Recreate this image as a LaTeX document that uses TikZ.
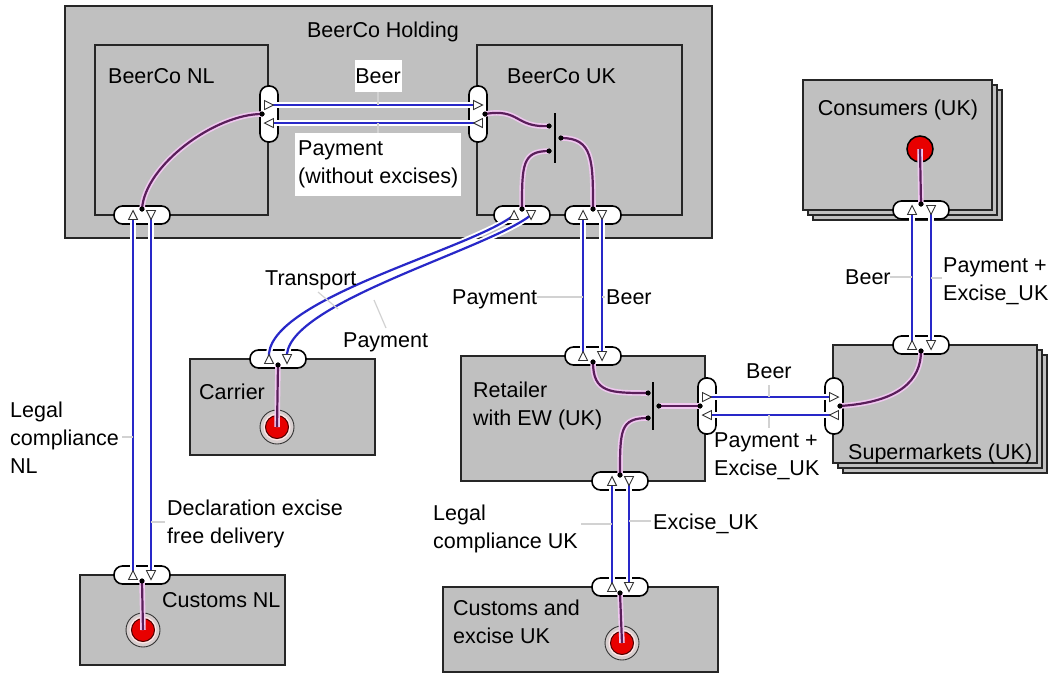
\documentclass[tikz,border=0pt]{standalone}
\usepackage{fontspec}
\setmainfont{Liberation Sans}
\definecolor{boxgray}{RGB}{192,192,192}
\definecolor{vblue}{RGB}{40,40,200}
\definecolor{dpurple}{RGB}{90,30,90}
\definecolor{dpink}{RGB}{240,200,240}
\definecolor{leadgray}{RGB}{210,210,210}
\definecolor{stimred}{RGB}{232,0,0}
\definecolor{ringfill}{RGB}{214,206,206}
\tikzset{
  box/.style={draw=black!85, line width=1.6pt, fill=boxgray},
  port/.style={draw=black, line width=1.6pt, fill=white, rounded corners=8.5pt, inner sep=0pt},
  hport/.style={port, minimum width=56pt, minimum height=18pt},
  vport/.style={port, minimum width=18pt, minimum height=56pt},
  vt/.style={draw=vblue, line width=2.2pt, preaction={draw=white, line width=6pt}},
  dep/.style={draw=dpurple, line width=2.2pt, preaction={draw=dpink, line width=5.5pt}},
  lead/.style={draw=leadgray, line width=1.2pt},
  lbl/.style={align=left, inner sep=0pt, anchor=base west},
  tri/.style={draw=black!80, fill=white, line width=0.9pt},
  dot/.style={circle, fill=black, inner sep=0pt, minimum size=5pt},
  andbar/.style={fill=black, inner sep=0pt, minimum width=1.8pt},
  ring/.style={circle, draw=black!80, line width=0.9pt, fill=ringfill, minimum size=34pt, inner sep=0pt},
  redc/.style={circle, fill=stimred, draw=black!70!red, line width=1pt, minimum size=23pt, inner sep=0pt,
     preaction={draw=white!90!red, line width=4pt}},
  startc/.style={circle, fill=stimred, draw=black, line width=1.5pt, minimum size=26pt, inner sep=0pt},
  triU/.pic={\draw[tri] (-4.5,4.5)--(0,-4.5)--(4.5,4.5)--cycle;},
  triD/.pic={\draw[tri] (-4.5,-4.5)--(0,4.5)--(4.5,-4.5)--cycle;},
  triR/.pic={\draw[tri] (-4.5,-4.5)--(4.5,0)--(-4.5,4.5)--cycle;},
  triL/.pic={\draw[tri] (4.5,-4.5)--(-4.5,0)--(4.5,4.5)--cycle;},
}
\begin{document}
\begin{tikzpicture}[x=1pt,y=-1pt,font=\fontsize{21.5}{28}\selectfont]
\useasboundingbox (0,0) rectangle (1052,681);

% ---------- actor boxes ----------
\draw[box] (65,6) rectangle (712,238);
\node[anchor=base] (tHold) at (383,37.5) {BeerCo Holding};
\draw[box] (95,45) rectangle (268,215);
\node[lbl] (tNL) at (108,83.5) {BeerCo NL};
\draw[box] (477,45) rectangle (682,215);
\node[lbl] (tUK) at (507,83.5) {BeerCo UK};

\draw[box] (190,359) rectangle (375,455);
\node[lbl] (tCar) at (199,399.5) {Carrier};
\draw[box] (461,356) rectangle (705,481);
\node[lbl] (tRet) at (473,425.5) {Retailer\\with EW (UK)};
\draw[box] (80,575) rectangle (285,665);
\node[lbl] (tCnl) at (162,607.5) {Customs NL};
\draw[box] (443,587) rectangle (718,672);
\node[lbl] (tCuk) at (453,643.5) {Customs and\\excise UK};

% stacked market segments
\draw[box] (813,90) rectangle (1002,220);
\draw[box] (808,85) rectangle (997,215);
\draw[box] (803,80) rectangle (992,210);
\node[anchor=base] (tCon) at (898,115.5) {Consumers (UK)};
\draw[box] (843,355) rectangle (1047,473);
\draw[box] (838,350) rectangle (1042,468);
\draw[box] (833,345) rectangle (1037,463);
\node[lbl] (tSup) at (848,459.5) {Supermarkets (UK)};

% ---------- ports ----------
\node[vport] (pNLr) at (269,114) {};
\node[vport] (pUKl) at (478,114) {};
\node[hport] (pNLb) at (142,215) {};
\node[hport] (pUKb1) at (522,215) {};
\node[hport] (pUKb2) at (593,215) {};
\node[hport] (pCar) at (278,359) {};
\node[hport] (pRt) at (593,356) {};
\node[vport] (pRr) at (707,406) {};
\node[hport] (pRb) at (620,481) {};
\node[hport] (pCnl) at (142,575) {};
\node[hport] (pCuk) at (620,587) {};
\node[vport] (pSl) at (834,406) {};
\node[hport] (pSt) at (921,345) {};
\node[hport] (pCon) at (921,210) {};

% ---------- value interface triangle positions ----------
\coordinate (a1) at (269,105); \coordinate (a2) at (478,105);
\coordinate (b1) at (478,123); \coordinate (b2) at (269,123);
\coordinate (c1) at (133,575); \coordinate (c2) at (133,215);
\coordinate (e1) at (151,215); \coordinate (e2) at (151,575);
\coordinate (f1) at (269,359); \coordinate (f2) at (514,215);
\coordinate (g1) at (531,215); \coordinate (g2) at (287,359);
\coordinate (h1) at (583,356); \coordinate (h2) at (583,215);
\coordinate (i1) at (602,215); \coordinate (i2) at (602,356);
\coordinate (j1) at (707,397); \coordinate (j2) at (834,397);
\coordinate (k1) at (834,415); \coordinate (k2) at (707,415);
\coordinate (l1) at (612,587); \coordinate (l2) at (612,481);
\coordinate (m1) at (629,481); \coordinate (m2) at (629,587);
\coordinate (n1) at (912,345); \coordinate (n2) at (912,210);
\coordinate (o1) at (931,210); \coordinate (o2) at (931,345);

% ---------- value transfers ----------
\draw[vt] (a1) -- (a2);
\draw[vt] (b1) -- (b2);
\draw[vt] (c1) -- (c2);
\draw[vt] (e1) -- (e2);
\draw[vt] (f1) .. controls (262,300) and (470,250) .. (f2);
\draw[vt] (g1) .. controls (487,250) and (280,305) .. (g2);
\draw[vt] (h1) -- (h2);
\draw[vt] (i1) -- (i2);
\draw[vt] (j1) -- (j2);
\draw[vt] (k1) -- (k2);
\draw[vt] (l1) -- (l2);
\draw[vt] (m1) -- (m2);
\draw[vt] (n1) -- (n2);
\draw[vt] (o1) -- (o2);

% triangles
\pic at (a1) {triR}; \pic at (a2) {triR};
\pic at (b1) {triL}; \pic at (b2) {triL};
\pic at (c1) {triU}; \pic at (c2) {triU};
\pic at (e1) {triD}; \pic at (e2) {triD};
\pic at (f1) {triU}; \pic at (f2) {triU};
\pic at (g1) {triD}; \pic at (g2) {triD};
\pic at (h1) {triU}; \pic at (h2) {triU};
\pic at (i1) {triD}; \pic at (i2) {triD};
\pic at (j1) {triR}; \pic at (j2) {triR};
\pic at (k1) {triL}; \pic at (k2) {triL};
\pic at (l1) {triU}; \pic at (l2) {triU};
\pic at (m1) {triD}; \pic at (m2) {triD};
\pic at (n1) {triU}; \pic at (n2) {triU};
\pic at (o1) {triD}; \pic at (o2) {triD};

% ---------- stimuli ----------
\node[ring] (sCarO) at (277,427) {}; \node[redc] (sCar) at (277,427) {};
\node[ring] (sCnlO) at (143,630) {}; \node[redc] (sCnl) at (143,630) {};
\node[ring] (sCukO) at (622,643) {}; \node[redc] (sCuk) at (622,643) {};
\node[startc] (sCon) at (920,149) {};

% ---------- AND forks ----------
\node[andbar, minimum height=50pt] (and1) at (555,138) {};
\node[andbar, minimum height=48pt] (and2) at (653,406) {};

% ---------- dependency dots ----------
\node[dot] (dNLr) at (262,114) {};
\node[dot] (dNLb) at (142,209) {};
\node[dot] (dUKl) at (485,114) {};
\node[dot] (dA1) at (549,126) {};
\node[dot] (dA2) at (549,151) {};
\node[dot] (dA3) at (561,138) {};
\node[dot] (dUKb1) at (522,209) {};
\node[dot] (dUKb2) at (593,209) {};
\node[dot] (dRt) at (593,362) {};
\node[dot] (dB1) at (648,393) {};
\node[dot] (dB2) at (648,418) {};
\node[dot] (dB3) at (659,406) {};
\node[dot] (dRr) at (700,406) {};
\node[dot] (dRb) at (620,475) {};
\node[dot] (dCar) at (278,365) {};
\node[dot] (dCnl) at (142,581) {};
\node[dot] (dCuk) at (620,593) {};
\node[dot] (dSl) at (840,406) {};
\node[dot] (dSt) at (921,351) {};
\node[dot] (dCon) at (921,204) {};

% ---------- dependency paths ----------
\draw[dep] (dNLr.center) .. controls (215,114) and (145,165) .. (dNLb.center);
\draw[dep] (dUKl.center) .. controls (520,108) and (515,128) .. (dA1.center);
\draw[dep] (dA2.center) .. controls (522,151) and (522,165) .. (dUKb1.center);
\draw[dep] (dA3.center) .. controls (593,138) and (593,160) .. (dUKb2.center);
\draw[dep] (dRt.center) .. controls (593,393) and (610,393) .. (dB1.center);
\draw[dep] (dB2.center) .. controls (620,418) and (620,430) .. (dRb.center);
\draw[dep] (dB3.center) -- (dRr.center);
\draw[dep] (dSl.center) .. controls (900,402) and (921,380) .. (dSt.center);
\draw[dep] (dCar.center) -- (sCar.center);
\draw[dep] (dCnl.center) -- (sCnl.center);
\draw[dep] (dCuk.center) -- (sCuk.center);
\draw[dep] (dCon.center) -- (sCon.center);
% redraw dots on top
\foreach \d in {dNLr,dNLb,dUKl,dA1,dA2,dA3,dUKb1,dUKb2,dRt,dB1,dB2,dB3,dRr,dRb,dCar,dCnl,dCuk,dSl,dSt,dCon}
  \fill (\d) circle (2.5pt);

% ---------- labels ----------
\node[fill=white, minimum width=47pt, minimum height=32pt, inner sep=0pt] (lBeer1) at (378,76) {Beer};
\node[fill=white, align=left, anchor=north west, inner xsep=3pt, inner ysep=8pt] (lPay1) at (295,133) {Payment\\(without excises)};
\draw[lead] (lBeer1.south) -- (378,105);
\draw[lead] (378,123) -- (lPay1.north west -| lBeer1.south);

\node[lbl] (lTr) at (265,285.5) {Transport};
\node[lbl] (lPay2) at (343,347.5) {Payment};
\coordinate (trP) at (338,309);
\coordinate (pyP) at (374,300);
\draw[lead] (318,292) -- (trP);
\draw[lead] (pyP) -- (386,328);

\node[lbl] (lPay3) at (452,304.5) {Payment};
\node[lbl] (lBeer3) at (606,304.5) {Beer};
\draw[lead] (537,297) -- (h2 |- 0,297);
\draw[lead] (602,297) -- (605,297);

\node[lbl] (lBeer4) at (746,378.5) {Beer};
\node[lbl] (lPay4) at (714,475.5) {Payment +\\Excise\_UK};
\draw[lead] (769,385) -- (769,397);
\draw[lead] (769,415) -- (769,428);

\node[lbl] (lBeer5) at (845,284.5) {Beer};
\node[lbl] (lPay5) at (943,300.5) {Payment +\\Excise\_UK};
\draw[lead] (890,277) -- (912,277);
\draw[lead] (931,278) -- (942,278);

\node[lbl] (lLegNL) at (10,473.5) {Legal\\compliance\\NL};
\node[lbl] (lDecl) at (167,543.5) {Declaration excise\\free delivery};
\draw[lead] (122,437) -- (133,437);
\draw[lead] (151,522) -- (165,522);

\node[lbl] (lLegUK) at (433,548.5) {Legal\\compliance UK};
\node[lbl] (lExc) at (653,529.5) {Excise\_UK};
\draw[lead] (581,524) -- (612,524);
\draw[lead] (629,521) -- (651,521);
\end{tikzpicture}
\end{document}
